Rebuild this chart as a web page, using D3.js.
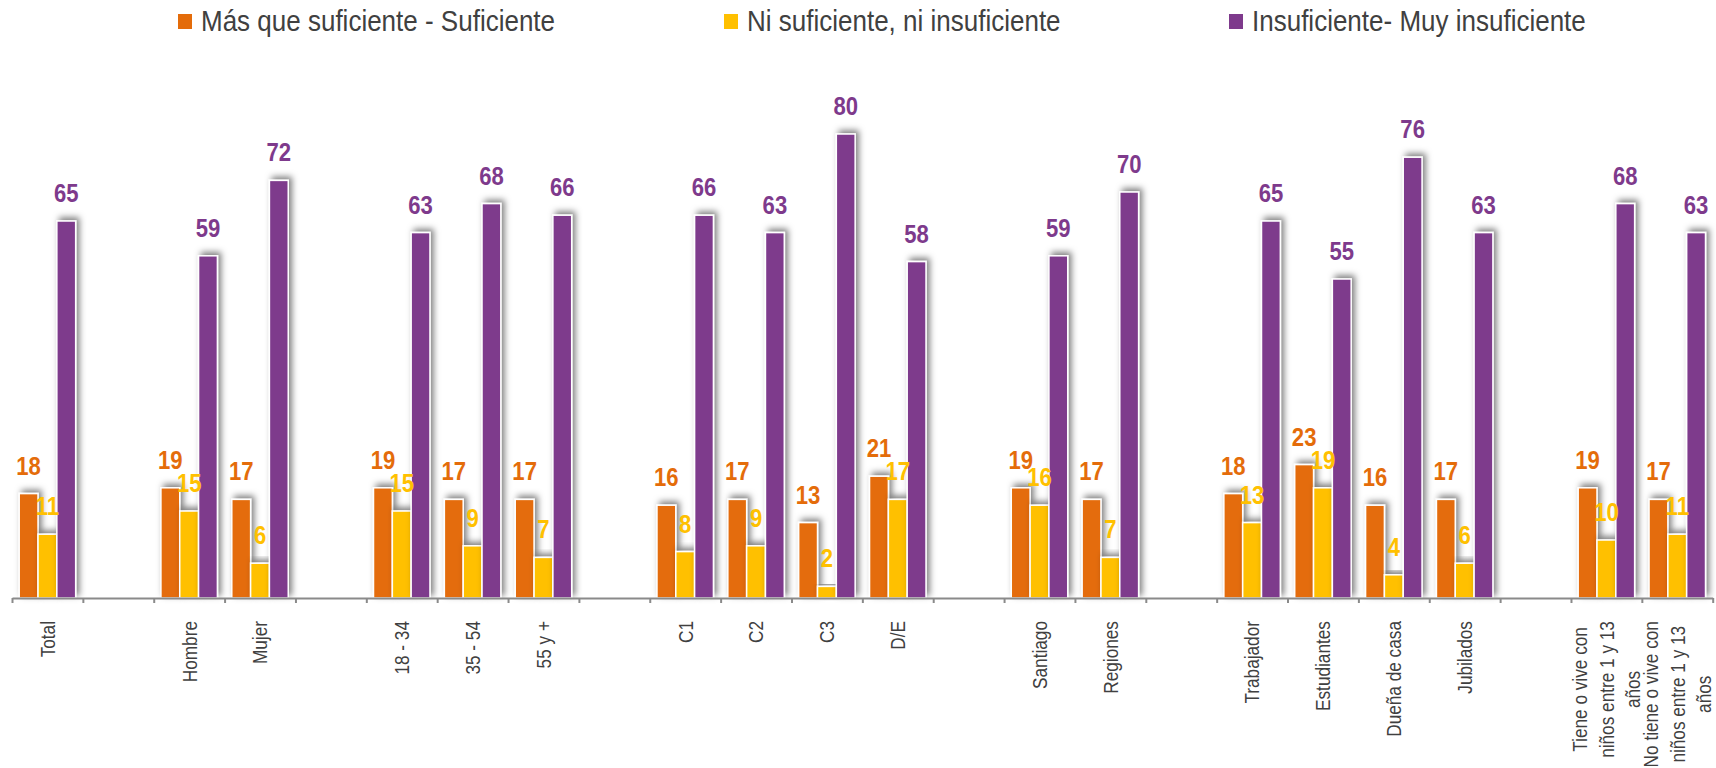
<!DOCTYPE html>
<html>
<head>
<meta charset="utf-8">
<script src="https://cdn.jsdelivr.net/npm/d3@7"></script>
<style>
  html, body { margin: 0; padding: 0; background: #fff; }
  svg { display: block; }
</style>
</head>
<body>
<svg id="canvas"></svg>
<script>
// categories, empty strings are the gaps between groups
const categories = ["Total", "", "Hombre", "Mujer", "", "18 - 34", "35 - 54", "55 y +", "",
    "C1", "C2", "C3", "D/E", "", "Santiago", "Regiones", "",
    "Trabajador", "Estudiantes", "Dueña de casa", "Jubilados", "",
    "Tiene o vive con niños entre 1 y 13 años", "No tiene o vive con niños entre 1 y 13 años"];

const seriesNames = ["Más que suficiente - Suficiente", "Ni suficiente, ni insuficiente", "Insuficiente- Muy insuficiente"];

const masQueSuficiente = [18, null, 19, 17, null, 19, 17, 17, null, 16, 17, 13, 21, null, 19, 17, null, 18, 23, 16, 17, null, 19, 17];
const niSuficiente     = [11, null, 15, 6, null, 15, 9, 7, null, 8, 9, 2, 17, null, 16, 7, null, 13, 19, 4, 6, null, 10, 11];
const insuficiente     = [65, null, 59, 72, null, 63, 68, 66, null, 66, 63, 80, 58, null, 59, 70, null, 65, 55, 76, 63, null, 68, 63];

const colors = ["#E46C0A", "#FFC000", "#7E3A8C"];

const width = 1716;
const height = 768;
const baseline = 598;
const axisLeft = 12;
const axisRight = 1712.7;
const font = "'Liberation Sans', Arial, sans-serif";
const narrow = 0.82; // squeeze Arial metrics to look like Arial Narrow

const svg = d3.select("#canvas")
    .attr("width", width)
    .attr("height", height);

const defs = svg.append("defs");
defs.append("filter")
    .attr("id", "shadow")
    .attr("x", "-60%").attr("y", "-20%")
    .attr("width", "220%").attr("height", "140%")
    .append("feDropShadow")
    .attr("dx", 3)
    .attr("dy", -3)
    .attr("stdDeviation", 3)
    .attr("flood-color", "#000")
    .attr("flood-opacity", 0.5);

const series = [masQueSuficiente, niSuficiente, insuficiente];

const x = d3.scaleBand()
    .domain(d3.range(categories.length))
    .range([axisLeft, axisRight]);

const xInner = d3.scaleBand()
    .domain(d3.range(series.length))
    .range([7.2, x.bandwidth() - 7.2]);

const y = d3.scaleLinear()
    .domain([0, 80])
    .range([baseline, 134]);

// bars
const groups = svg.append("g")
    .selectAll("g")
    .data(categories.map((c, i) => i).filter(i => insuficiente[i] !== null))
    .enter()
    .append("g")
    .attr("transform", i => "translate(" + x(i) + ",0)");

groups.selectAll("rect")
    .data(i => series.map((s, k) => ({ k: k, v: s[i] })))
    .enter()
    .append("rect")
    .attr("x", d => xInner(d.k))
    .attr("y", d => y(d.v))
    .attr("width", xInner.bandwidth())
    .attr("height", d => baseline - y(d.v))
    .attr("fill", d => colors[d.k])
    .attr("stroke", "#fff")
    .attr("stroke-width", 1.5)
    .attr("filter", "url(#shadow)");

// value labels
groups.selectAll("text")
    .data(i => series.map((s, k) => ({ k: k, v: s[i] })))
    .enter()
    .append("text")
    .attr("transform", d => "translate(" + (xInner(d.k) + xInner.bandwidth() / 2) + "," + (y(d.v) - 19) + ") scale(0.85,1)")
    .attr("text-anchor", "middle")
    .attr("font-family", font)
    .attr("font-weight", "bold")
    .attr("font-size", 26)
    .attr("fill", d => colors[d.k])
    .text(d => d.v);

// axis with ticks on the slot boundaries
const xEdges = d3.scaleLinear()
    .domain([0, categories.length])
    .range([axisLeft, axisRight]);

const axis = svg.append("g")
    .attr("transform", "translate(0," + baseline + ")")
    .call(d3.axisBottom(xEdges)
        .tickValues(d3.range(categories.length + 1))
        .tickFormat("")
        .tickSize(5)
        .tickSizeOuter(0));

axis.select(".domain").attr("stroke", "#8a8a8a").attr("stroke-width", 2);
axis.selectAll(".tick line").attr("stroke", "#8a8a8a").attr("stroke-width", 2);

// category labels, rotated, wrapped, block anchored under the axis
const labelTop = 621;
const lineGap = 26.5;
const maxLine = 158;

const labels = svg.append("g")
    .attr("font-family", font)
    .attr("font-size", 21)
    .attr("fill", "#404040");

categories.forEach((label, i) => {
    if (!label) return;
    const probe = labels.append("text").attr("visibility", "hidden");
    const measure = t => { probe.text(t); return probe.node().getComputedTextLength() * narrow; };
    const words = label.split(" ");
    let lines = [];
    let current = "";
    words.forEach(w => {
        const test = current ? current + " " + w : w;
        if (measure(test) > maxLine && current) {
            lines.push(current);
            current = w;
        } else {
            current = test;
        }
    });
    lines.push(current);
    const blockW = d3.max(lines, measure);
    probe.remove();
    const cx = x(i) + x.bandwidth() / 2;
    lines.forEach((l, j) => {
        const lx = cx + (j - (lines.length - 1) / 2) * lineGap;
        labels.append("text")
            .attr("transform", "translate(" + lx + "," + (labelTop + blockW / 2) + ") rotate(-90) scale(" + narrow + ",1)")
            .attr("text-anchor", "middle")
            .attr("dy", "0.35em")
            .text(l);
    });
});

// legend
const legendSquareX = [178, 724, 1229];
const legend = svg.append("g")
    .selectAll("g")
    .data(seriesNames)
    .enter()
    .append("g")
    .attr("transform", (d, i) => "translate(" + legendSquareX[i] + ",0)");

legend.append("rect")
    .attr("x", 0)
    .attr("y", 14)
    .attr("width", 14)
    .attr("height", 15)
    .attr("fill", (d, i) => colors[i]);

legend.append("text")
    .attr("transform", "translate(23,31) scale(1,1.1)")
    .attr("font-family", font)
    .attr("font-size", 26)
    .attr("fill", "#404040")
    .text(d => d);
</script>
</body>
</html>
